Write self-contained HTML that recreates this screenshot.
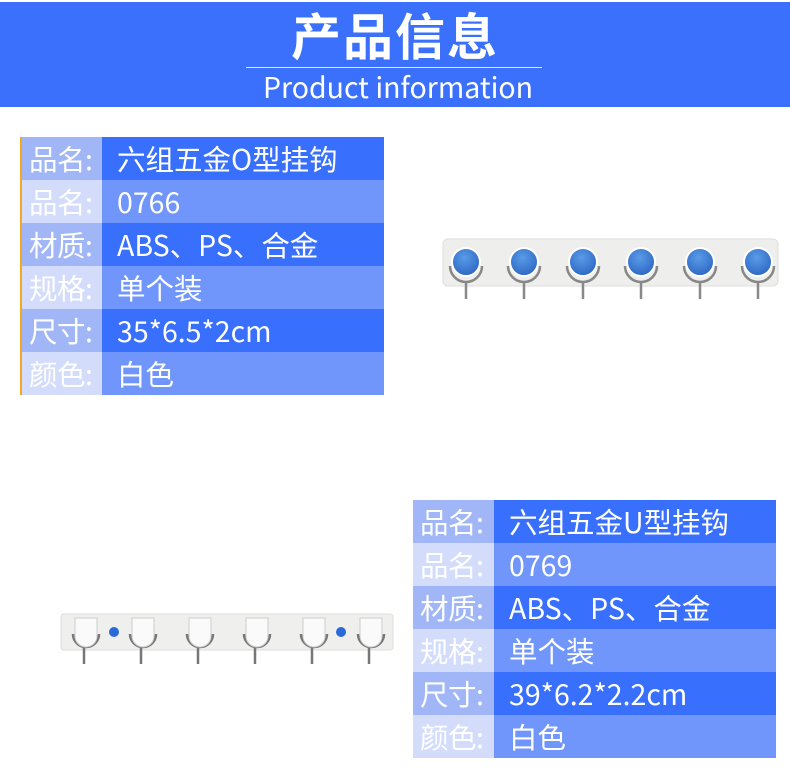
<!DOCTYPE html>
<html><head><meta charset="utf-8"><style>
*{margin:0;padding:0;box-sizing:border-box}
body{width:790px;height:777px;background:#fff;position:relative;overflow:hidden;font-family:"Noto Sans CJK SC",sans-serif}
.hdr{position:absolute;left:0;top:2px;width:790px;height:105px;background:#3a70fb}
.t1{position:absolute;left:0;width:790px;text-align:center;color:#fff}
.tbl{position:absolute}
.row{display:flex;height:43px;color:#fff;font-size:28.5px;line-height:43px;font-family:"Noto Sans CJK SC",sans-serif}
.row .l{background:#a0b6f6;padding-left:7px;letter-spacing:-0.5px}
.row .v{background:#386ffd;padding-left:15px;flex:1;white-space:nowrap}
.row.lt .l{background:#d3ddfb}
.row.lt .v{background:#7096fb}
</style></head><body>
<div class="hdr"></div>
<div class="t1" style="top:0px;font-size:50px;font-weight:bold;line-height:68px;letter-spacing:2px">产品信息</div>
<div style="position:absolute;left:246px;top:67px;width:296px;height:1px;background:#dfe8ff"></div>
<div class="t1" style="top:67px;font-size:28.5px;line-height:40px;left:3px">Product information</div>

<div class="tbl" style="left:20px;top:137px;width:364px;border-left:2px solid #f5a623">
<div class="row"><div class="l" style="width:80px">品名:</div><div class="v">六组五金O型挂钩</div></div>
<div class="row lt"><div class="l" style="width:80px">品名:</div><div class="v">0766</div></div>
<div class="row"><div class="l" style="width:80px">材质:</div><div class="v">ABS、PS、合金</div></div>
<div class="row lt"><div class="l" style="width:80px">规格:</div><div class="v">单个装</div></div>
<div class="row"><div class="l" style="width:80px">尺寸:</div><div class="v">35*6.5*2cm</div></div>
<div class="row lt"><div class="l" style="width:80px">颜色:</div><div class="v">白色</div></div>
</div>

<div class="tbl" style="left:413px;top:500px;width:363px">
<div class="row"><div class="l" style="width:81px">品名:</div><div class="v">六组五金U型挂钩</div></div>
<div class="row lt"><div class="l" style="width:81px">品名:</div><div class="v">0769</div></div>
<div class="row"><div class="l" style="width:81px">材质:</div><div class="v">ABS、PS、合金</div></div>
<div class="row lt"><div class="l" style="width:81px">规格:</div><div class="v">单个装</div></div>
<div class="row"><div class="l" style="width:81px">尺寸:</div><div class="v">39*6.2*2.2cm</div></div>
<div class="row lt"><div class="l" style="width:81px">颜色:</div><div class="v">白色</div></div>
</div>

<svg style="position:absolute;left:0;top:0" width="790" height="777">
<defs><radialGradient id="bl" cx="0.45" cy="0.35" r="0.7"><stop offset="0" stop-color="#5a9be8"/><stop offset="1" stop-color="#2a64c0"/></radialGradient></defs>
<rect x="443" y="239" width="335" height="47" rx="5" fill="#eeeeec" stroke="#ddd"/>
<g fill="none" stroke="#888" stroke-width="2.5">
<path d="M450 266 a16 16 0 0 0 32 0"/><path d="M508 266 a16 16 0 0 0 32 0"/><path d="M567 266 a16 16 0 0 0 32 0"/><path d="M625 266 a16 16 0 0 0 32 0"/><path d="M684 266 a16 16 0 0 0 32 0"/><path d="M742 266 a16 16 0 0 0 32 0"/>
<path d="M466 282v17M524 282v17M583 282v17M641 282v17M700 282v17M758 282v17"/>
</g>
<g fill="url(#bl)" stroke="#fff" stroke-width="2">
<circle cx="466" cy="262" r="14"/><circle cx="524" cy="262" r="14"/><circle cx="583" cy="262" r="14"/><circle cx="641" cy="262" r="14"/><circle cx="700" cy="262" r="14"/><circle cx="758" cy="262" r="14"/>
</g>
<rect x="61" y="614" width="332" height="36" rx="3" fill="#efefed" stroke="#ddd"/>
<g fill="none" stroke="#777" stroke-width="2.5">
<path d="M73 634 a13 13 0 0 0 26 0"/><path d="M130 634 a13 13 0 0 0 26 0"/><path d="M187 634 a13 13 0 0 0 26 0"/><path d="M244 634 a13 13 0 0 0 26 0"/><path d="M301 634 a13 13 0 0 0 26 0"/><path d="M358 634 a13 13 0 0 0 26 0"/>
<path d="M84 648v16M141 648v16M198 648v16M255 648v16M312 648v16M369 648v16"/>
</g>
<g fill="#fafafa" stroke="#ccc">
<path d="M75 618h22v18a11 11 0 0 1-22 0z"/><path d="M132 618h22v18a11 11 0 0 1-22 0z"/><path d="M189 618h22v18a11 11 0 0 1-22 0z"/><path d="M246 618h22v18a11 11 0 0 1-22 0z"/><path d="M303 618h22v18a11 11 0 0 1-22 0z"/><path d="M360 618h22v18a11 11 0 0 1-22 0z"/>
</g>
<circle cx="114" cy="632" r="5" fill="#2a6ad8"/><circle cx="341" cy="632" r="5" fill="#2a6ad8"/>
</svg>
</body></html>
